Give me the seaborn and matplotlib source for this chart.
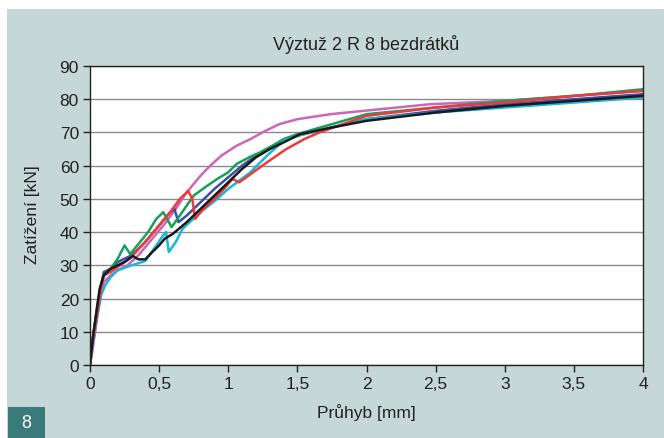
import matplotlib
matplotlib.use("Agg")
import matplotlib.pyplot as plt
import seaborn as sns
import pandas as pd
from matplotlib.patches import Rectangle

# ---- data ----
magenta_x = [0, 0.02, 0.05, 0.08, 0.1, 0.15, 0.2, 0.27, 0.35, 0.45, 0.55, 0.62, 0.7, 0.8, 0.87, 0.95, 1.06, 1.16, 1.27, 1.37, 1.5, 1.74, 2.1, 2.46, 3.0, 3.5, 4.0]
magenta_y = [0, 5, 14, 22, 25, 27, 28.5, 30, 33, 38, 43, 47, 52, 57, 60, 63, 66, 68, 70.5, 72.5, 74, 75.5, 77, 78.5, 79.5, 81, 82.5]

blue_x = [0, 0.02, 0.05, 0.08, 0.1, 0.15, 0.2, 0.3, 0.4, 0.5, 0.58, 0.61, 0.64, 0.7, 0.8, 0.9, 1.0, 1.1, 1.2, 1.3, 1.4, 1.5, 1.75, 2.0, 2.5, 3.0, 3.5, 4.0]
blue_y = [0, 8, 17, 24, 28, 29, 31, 33, 37, 42, 46, 47, 43, 45, 49, 53, 56.5, 60, 63, 65.5, 67.5, 69, 71.5, 74, 76.5, 78.5, 80, 81.5]

green_x = [0, 0.02, 0.05, 0.08, 0.1, 0.15, 0.2, 0.25, 0.29, 0.35, 0.42, 0.48, 0.53, 0.59, 0.65, 0.75, 0.85, 0.92, 1.0, 1.06, 1.15, 1.23, 1.32, 1.4, 1.5, 1.75, 2.0, 2.5, 3.0, 3.5, 4.0]
green_y = [0, 8, 16, 24, 27, 29, 32, 36, 33.4, 36.4, 40, 44, 46, 41.5, 45, 51, 54, 56, 58, 60.5, 62.5, 64, 66, 68, 69.5, 72.5, 75.5, 77.5, 79.5, 81, 83]

cyan_x = [0, 0.02, 0.05, 0.08, 0.11, 0.15, 0.2, 0.3, 0.4, 0.48, 0.52, 0.55, 0.57, 0.62, 0.67, 0.8, 0.92, 1.0, 1.08, 1.16, 1.28, 1.4, 1.5, 1.75, 2.0, 2.5, 3.0, 3.5, 4.0]
cyan_y = [0, 6, 14, 21, 24, 26.5, 28.5, 30, 31.3, 36, 38.5, 40, 34, 37, 41, 46, 50, 53, 55.5, 58, 63, 67.5, 69, 71.5, 74, 76, 77.5, 79, 80.5]

red_x = [0, 0.02, 0.05, 0.08, 0.1, 0.15, 0.2, 0.3, 0.43, 0.5, 0.58, 0.65, 0.71, 0.74, 0.76, 0.82, 0.9, 0.97, 1.03, 1.08, 1.18, 1.28, 1.42, 1.55, 1.66, 2.0, 2.5, 3.0, 3.5, 4.0]
red_y = [0, 7, 15, 23, 27, 28, 29.5, 32.5, 38.5, 42, 46, 50, 52.4, 50, 44, 47, 50, 53, 56, 55, 58, 61, 65, 68, 70, 75, 77.5, 79, 81, 82.5]

black_x = [0, 0.02, 0.05, 0.07, 0.1, 0.15, 0.2, 0.25, 0.31, 0.35, 0.4, 0.45, 0.5, 0.54, 0.6, 0.7, 0.8, 0.9, 1.0, 1.1, 1.2, 1.3, 1.4, 1.52, 1.75, 2.0, 2.5, 3.0, 3.5, 4.0]
black_y = [0, 8, 17, 23, 27, 29, 30, 31, 32.8, 31.8, 31.8, 34, 36, 38, 39.5, 43, 47, 51, 55, 59, 62.5, 65, 67, 69.5, 71.5, 73.5, 76, 78, 79.5, 81]

x_ticks = [0, 0.5, 1, 1.5, 2, 2.5, 3, 3.5, 4]
x_tick_labels = ["0", "0,5", "1", "1,5", "2", "2,5", "3", "3,5", "4"]
y_ticks = [0, 10, 20, 30, 40, 50, 60, 70, 80, 90]

series_names = ["magenta", "blue", "green", "cyan", "red", "black"]
series_x = [magenta_x, blue_x, green_x, cyan_x, red_x, black_x]
series_y = [magenta_y, blue_y, green_y, cyan_y, red_y, black_y]
palette = {"magenta": "#cc66bb", "blue": "#3a4faa", "green": "#16a05a",
           "cyan": "#1ab8d8", "red": "#ee3a3a", "black": "#1a1a1a"}

rows = []
for name, xs, ys in zip(series_names, series_x, series_y):
    for i, (a, b) in enumerate(zip(xs, ys)):
        rows.append({"serie": name, "order": i, "x": a, "y": b})
df = pd.DataFrame(rows)

sns.set_style("white")
plt.rcParams["font.family"] = ["Liberation Sans", "DejaVu Sans"]

BG = "#c5d8d7"
fig = plt.figure(figsize=(6.64, 4.39), dpi=100, facecolor="white")
fig.patches.append(Rectangle((7 / 664, 0), 1 - 7 / 664, 1 - 10 / 439,
                             transform=fig.transFigure, facecolor=BG,
                             edgecolor="none", zorder=-10))
fig.patches.append(Rectangle((8 / 664, 0), 37 / 664, 31 / 439,
                             transform=fig.transFigure, facecolor="#3a7a78",
                             edgecolor="none", zorder=-5))
fig.text(26.5 / 664, 15 / 439, "8", color="white", fontsize=13,
         ha="center", va="center")

ax = fig.add_axes([90 / 664, 1 - 366 / 439, 553 / 664, 299 / 439])
ax.set_facecolor("white")

for name in series_names:
    sub = df[df["serie"] == name]
    sns.lineplot(data=sub, x="x", y="y", sort=False, estimator=None,
                 color=palette[name], linewidth=1.8, ax=ax, legend=False)

ax.set_xlim(0, 4)
ax.set_ylim(0, 90)
ax.set_xticks(x_ticks)
ax.set_xticklabels(x_tick_labels)
ax.set_yticks(y_ticks)
ax.yaxis.grid(True, color="#8a8a8a", linewidth=1.0)
ax.xaxis.grid(False)
ax.set_axisbelow(True)
for s in ax.spines.values():
    s.set_color("#222222")
    s.set_linewidth(1.0)
ax.tick_params(axis="both", direction="out", length=5, width=1,
               color="#222222", labelsize=12.5, labelcolor="#222222", pad=3,
               bottom=True, left=True)
ax.set_xlabel("")
ax.set_ylabel("")

fig.text(366 / 664, 1 - 45 / 439, "Výztuž 2 R 8 bezdrátků", fontsize=13,
         ha="center", va="center", color="#222222")
fig.text(366 / 664, 1 - 413 / 439, "Průhyb [mm]", fontsize=12.5,
         ha="center", va="center", color="#222222")
fig.text(33 / 664, 1 - 215 / 439, "Zatížení [kN]", fontsize=12.5,
         ha="center", va="center", rotation=90, color="#222222")

fig.savefig("out.png", dpi=100, facecolor=fig.get_facecolor())
